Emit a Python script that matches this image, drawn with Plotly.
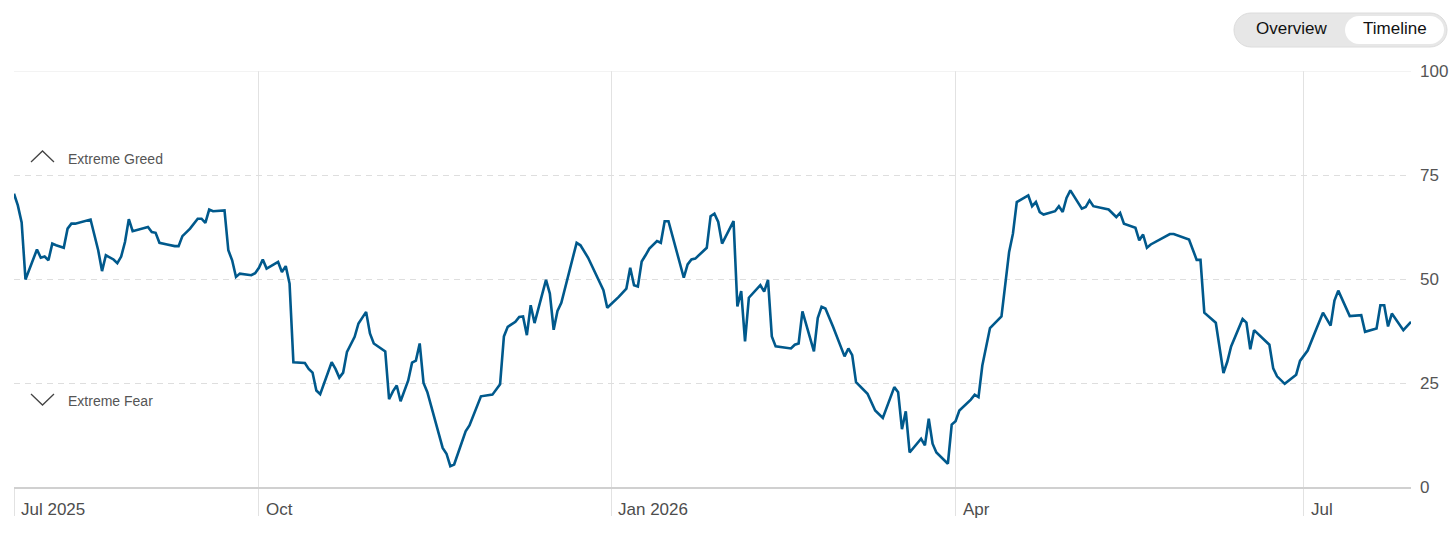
import plotly.graph_objects as go

# Fear & Greed index (one year window)
dates = [
    "2025-07-29", "2025-07-30", "2025-07-31", "2025-08-01", "2025-08-04", "2025-08-05", "2025-08-06",
    "2025-08-07", "2025-08-08", "2025-08-09", "2025-08-11", "2025-08-12", "2025-08-13", "2025-08-14",
    "2025-08-18", "2025-08-20", "2025-08-21", "2025-08-22", "2025-08-24", "2025-08-25", "2025-08-26",
    "2025-08-27", "2025-08-28", "2025-08-29", "2025-09-02", "2025-09-03", "2025-09-04", "2025-09-05",
    "2025-09-07", "2025-09-09", "2025-09-10", "2025-09-11", "2025-09-13", "2025-09-15", "2025-09-16",
    "2025-09-17", "2025-09-18", "2025-09-19", "2025-09-22", "2025-09-23", "2025-09-24", "2025-09-25",
    "2025-09-26", "2025-09-29", "2025-09-30", "2025-10-01", "2025-10-02", "2025-10-03", "2025-10-06",
    "2025-10-07", "2025-10-08", "2025-10-09", "2025-10-10", "2025-10-13", "2025-10-14", "2025-10-15",
    "2025-10-16", "2025-10-17", "2025-10-20", "2025-10-21", "2025-10-22", "2025-10-23", "2025-10-24",
    "2025-10-26", "2025-10-27", "2025-10-29", "2025-10-30", "2025-10-31", "2025-11-03", "2025-11-04",
    "2025-11-05", "2025-11-06", "2025-11-07", "2025-11-09", "2025-11-10", "2025-11-11", "2025-11-12",
    "2025-11-13", "2025-11-14", "2025-11-18", "2025-11-19", "2025-11-20", "2025-11-21", "2025-11-24",
    "2025-11-25", "2025-11-28", "2025-12-01", "2025-12-03", "2025-12-04", "2025-12-05", "2025-12-07",
    "2025-12-08", "2025-12-09", "2025-12-10", "2025-12-11", "2025-12-12", "2025-12-15", "2025-12-16",
    "2025-12-17", "2025-12-18", "2025-12-19", "2025-12-23", "2025-12-24", "2025-12-26", "2025-12-30",
    "2025-12-31", "2026-01-03", "2026-01-05", "2026-01-06", "2026-01-07", "2026-01-08", "2026-01-09",
    "2026-01-10", "2026-01-11", "2026-01-13", "2026-01-14", "2026-01-15", "2026-01-16", "2026-01-20",
    "2026-01-21", "2026-01-22", "2026-01-23", "2026-01-26", "2026-01-27", "2026-01-28", "2026-01-29",
    "2026-01-30", "2026-02-02", "2026-02-03", "2026-02-04", "2026-02-05", "2026-02-06", "2026-02-09",
    "2026-02-10", "2026-02-11", "2026-02-12", "2026-02-13", "2026-02-17", "2026-02-18", "2026-02-19",
    "2026-02-20", "2026-02-23", "2026-02-24", "2026-02-25", "2026-02-26", "2026-02-28", "2026-03-03",
    "2026-03-04", "2026-03-05", "2026-03-06", "2026-03-09", "2026-03-11", "2026-03-13", "2026-03-16",
    "2026-03-17", "2026-03-18", "2026-03-19", "2026-03-20", "2026-03-23", "2026-03-24", "2026-03-25",
    "2026-03-26", "2026-03-27", "2026-03-30", "2026-03-31", "2026-04-01", "2026-04-02", "2026-04-05",
    "2026-04-06", "2026-04-07", "2026-04-08", "2026-04-10", "2026-04-13", "2026-04-14", "2026-04-15",
    "2026-04-16", "2026-04-17", "2026-04-20", "2026-04-21", "2026-04-22", "2026-04-23", "2026-04-24",
    "2026-04-27", "2026-04-28", "2026-04-29", "2026-04-30", "2026-05-01", "2026-05-04", "2026-05-05",
    "2026-05-06", "2026-05-07", "2026-05-11", "2026-05-13", "2026-05-14", "2026-05-15", "2026-05-18",
    "2026-05-19", "2026-05-20", "2026-05-21", "2026-05-22", "2026-05-25", "2026-05-27", "2026-05-28",
    "2026-06-01", "2026-06-03", "2026-06-04", "2026-06-05", "2026-06-08", "2026-06-10", "2026-06-11",
    "2026-06-12", "2026-06-15", "2026-06-16", "2026-06-17", "2026-06-18", "2026-06-22", "2026-06-23",
    "2026-06-24", "2026-06-26", "2026-06-29", "2026-06-30", "2026-07-02", "2026-07-04", "2026-07-06",
    "2026-07-08", "2026-07-09", "2026-07-10", "2026-07-13", "2026-07-16", "2026-07-17", "2026-07-20",
    "2026-07-21", "2026-07-22", "2026-07-23", "2026-07-24", "2026-07-27", "2026-07-29",
]
index_values = [
    70.5, 67.7, 63.6, 49.9, 57.1, 55.1, 55.4,
    54.5, 58.5, 58.1, 57.5, 62.1, 63.3, 63.3,
    64.3, 56.9, 51.9, 55.7, 54.7, 53.8, 55.4,
    58.9, 64.4, 61.5, 62.5, 61.3, 61.1, 58.7,
    58.3, 57.9, 57.9, 60.3, 62.1, 64.5, 64.5,
    63.5, 66.7, 66.3, 66.5, 56.9, 54.5, 50.5,
    51.3, 50.9, 51.4, 52.7, 54.7, 52.5, 54.1,
    51.7, 53.1, 48.9, 30.0, 29.8, 28.4, 27.5,
    23.2, 22.3, 30.0, 28.4, 26.3, 27.5, 32.5,
    36.1, 39.3, 42.1, 36.9, 34.5, 32.6, 21.1,
    23.0, 24.4, 20.6, 25.6, 29.9, 30.4, 34.5,
    25.0, 22.8, 9.4, 8.0, 5.0, 5.4, 13.4,
    14.8, 21.8, 22.2, 24.7, 36.2, 38.5, 39.7,
    40.9, 41.0, 36.5, 43.7, 39.4, 49.8, 46.5,
    37.8, 42.3, 44.3, 58.7, 58.1, 55.1, 47.3,
    43.1, 45.7, 47.7, 52.7, 48.5, 48.2, 54.2,
    55.7, 57.3, 59.1, 58.7, 63.9, 63.9, 50.3,
    53.5, 54.7, 54.9, 57.5, 65.1, 65.7, 63.7,
    58.5, 63.9, 43.4, 47.1, 35.0, 45.5, 48.5,
    47.0, 49.8, 36.2, 33.8, 33.3, 34.2, 34.5,
    42.2, 32.6, 40.6, 43.3, 42.9, 38.5, 31.4,
    33.3, 31.7, 25.2, 22.4, 18.4, 16.6, 24.0,
    22.8, 13.9, 18.2, 8.3, 11.6, 10.0, 16.4,
    10.4, 8.3, 5.6, 15.0, 15.8, 18.4, 21.0,
    22.2, 21.6, 29.2, 38.2, 41.0, 48.1, 56.5,
    60.9, 68.5, 70.1, 67.5, 68.5, 66.1, 65.5,
    66.3, 67.5, 66.1, 69.5, 71.3, 66.9, 67.3,
    68.9, 67.5, 66.7, 64.9, 65.9, 63.3, 62.3,
    59.3, 60.7, 57.5, 58.3, 59.7, 60.8, 60.8,
    59.5, 54.6, 54.6, 41.9, 39.5, 27.4, 30.1,
    33.8, 40.4, 39.5, 33.1, 37.7, 34.2, 28.5,
    26.6, 24.8, 27.0, 30.3, 32.8, 37.4, 41.9,
    38.8, 44.8, 47.2, 41.1, 41.3, 37.3, 38.1,
    43.7, 43.7, 38.6, 41.7, 37.7, 39.7,
]

x_range = ["2025-07-29", "2026-07-29"]
x_tick_dates = ["2025-07-29", "2025-10-01", "2026-01-01", "2026-04-01", "2026-07-01"]
x_tick_labels = ["Jul 2025", "Oct", "Jan 2026", "Apr", "Jul"]
y_ticks = [0, 25, 50, 75, 100]

# page geometry (pixels)
W, H = 1456, 536
ML, MR, MT, MB = 14, 45, 71, 49


def xp(px):
    return (px - ML) / (W - ML - MR)


def yp(py):
    return (H - MB - py) / (H - MT - MB)


def pill_path(x0, x1, y0, y1):
    r = (y1 - y0) / 2
    k = 0.5523 * r
    m = y0 + r
    pts = [
        ("M", [(x0 + r, y0)]),
        ("L", [(x1 - r, y0)]),
        ("C", [(x1 - r + k, y0), (x1, m - k), (x1, m)]),
        ("C", [(x1, m + k), (x1 - r + k, y1), (x1 - r, y1)]),
        ("L", [(x0 + r, y1)]),
        ("C", [(x0 + r - k, y1), (x0, m + k), (x0, m)]),
        ("C", [(x0, m - k), (x0 + r - k, y0), (x0 + r, y0)]),
    ]
    s = ""
    for cmd, ps in pts:
        s += cmd + " ".join(f"{xp(a):.5f},{yp(b):.5f}" for a, b in ps) + " "
    return s + "Z"


def caret_path(x0, x1, y_base, y_tip):
    xm = (x0 + x1) / 2
    return (f"M{xp(x0):.5f},{yp(y_base):.5f} L{xp(xm):.5f},{yp(y_tip):.5f} "
            f"L{xp(x1):.5f},{yp(y_base):.5f}")


fig = go.Figure()
fig.add_trace(go.Scatter(
    x=dates, y=index_values, mode="lines",
    line=dict(color="#00598c", width=2.6),
    hoverinfo="x+y",
))

shapes = [
    # solid top border at 100
    dict(type="line", xref="paper", yref="y", x0=0, x1=1, y0=100, y1=100,
         line=dict(color="#e8e8e8", width=1), layer="above"),
    # Overview / Timeline toggle
    dict(type="path", xref="paper", yref="paper", path=pill_path(1234, 1447, 13, 47),
         fillcolor="#e7e7e7", line=dict(color="#dcdcdc", width=1), layer="above"),
    dict(type="path", xref="paper", yref="paper", path=pill_path(1345, 1444, 16, 44),
         fillcolor="#ffffff", line=dict(width=0), layer="above"),
    # carets
    dict(type="path", xref="paper", yref="paper", path=caret_path(31, 54, 162, 151),
         line=dict(color="#444444", width=1.3)),
    dict(type="path", xref="paper", yref="paper", path=caret_path(31, 54, 394, 405),
         line=dict(color="#444444", width=1.3)),
]

annotations = []
for d, lab in zip(x_tick_dates, x_tick_labels):
    annotations.append(dict(
        x=d, xref="x", y=yp(510), yref="paper", text=lab, showarrow=False,
        xanchor="left", yanchor="middle", xshift=5,
        font=dict(size=17, color="#4d4d4d"),
    ))
annotations += [
    dict(x=xp(66), y=yp(159), xref="paper", yref="paper", text="Extreme Greed",
         showarrow=False, xanchor="left", yanchor="middle",
         font=dict(size=14, color="#555555")),
    dict(x=xp(66), y=yp(401), xref="paper", yref="paper", text="Extreme Fear",
         showarrow=False, xanchor="left", yanchor="middle",
         font=dict(size=14, color="#555555")),
    dict(x=xp(1292), y=yp(29), xref="paper", yref="paper", text="Overview",
         showarrow=False, xanchor="center", yanchor="middle",
         font=dict(size=17, color="#111111")),
    dict(x=xp(1395), y=yp(29), xref="paper", yref="paper", text="Timeline",
         showarrow=False, xanchor="center", yanchor="middle",
         font=dict(size=17, color="#111111")),
]

fig.update_layout(
    width=W, height=H,
    margin=dict(l=ML, r=MR, t=MT, b=MB),
    paper_bgcolor="white", plot_bgcolor="white",
    showlegend=False,
    font=dict(family="Liberation Sans, Arial, sans-serif"),
    shapes=shapes,
    annotations=annotations,
    xaxis=dict(
        type="date", range=x_range, automargin=False,
        tickvals=x_tick_dates, showticklabels=False,
        showgrid=True, gridcolor="#e2e2e2", gridwidth=1,
        ticks="outside", ticklen=27, tickcolor="#e2e2e2", tickwidth=1,
        showline=True, linecolor="#d0d0d0", linewidth=2,
        zeroline=False, fixedrange=True,
    ),
    yaxis=dict(
        range=[0, 100], side="right", automargin=False,
        tickvals=y_ticks, ticks="", ticklabelstandoff=8,
        tickfont=dict(size=17, color="#555555"),
        showgrid=True, gridcolor="#dedede", gridwidth=1, griddash="6px,5px",
        showline=False, zeroline=False, fixedrange=True,
    ),
)

# the page body has a default 8px margin; remove it so the figure fills the window
fig.write_html("out.html", config={"displayModeBar": False},
               post_script="document.body.style.margin='0px';")
